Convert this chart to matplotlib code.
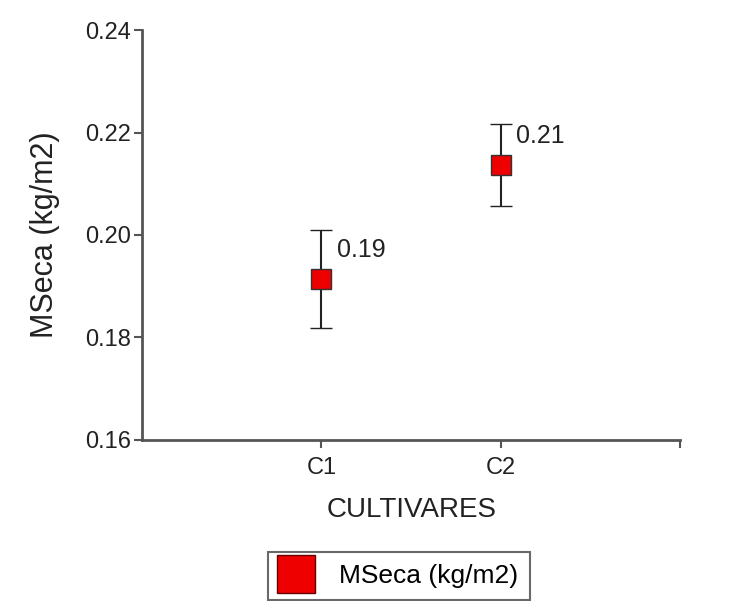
import numpy as np
import matplotlib
matplotlib.use("Agg")
import matplotlib.pyplot as plt
from matplotlib.lines import Line2D

plt.rcParams['font.family'] = ['Liberation Sans', 'DejaVu Sans']

# data
cultivares = ['C1', 'C2']
mseca = [0.1914, 0.2137]
erro = [0.0096, 0.0080]
rotulos = ['0.19', '0.21']

fig = plt.figure(figsize=(7.29, 6.01), dpi=100)
ax = fig.add_axes([0.195, 0.268, 0.738, 0.682])

x = np.arange(1, len(cultivares) + 1)
ax.errorbar(x, mseca, yerr=erro, fmt='s', color='#222222', ecolor='#222222',
            elinewidth=1.5, capsize=8, capthick=1.5,
            markersize=14, markerfacecolor='#ee0000', markeredgecolor='#333333',
            markeredgewidth=1)

for xi, yi, lab in zip(x, mseca, rotulos):
    ax.annotate(lab, (xi, yi), xytext=(11, 21), textcoords='offset points',
                fontsize=18, color='#222222', va='center', ha='left')

ax.set_xlim(0, 3)
ax.set_ylim(0.16, 0.24)
ax.set_xticks([1, 2, 3])
ax.set_xticklabels(cultivares + [''])
ax.set_yticks([0.16, 0.18, 0.20, 0.22, 0.24])
ax.set_yticklabels(['0.16', '0.18', '0.20', '0.22', '0.24'])

for s in ['top', 'right']:
    ax.spines[s].set_visible(False)
for s in ['left', 'bottom']:
    ax.spines[s].set_color('#555555')
    ax.spines[s].set_linewidth(2)
ax.tick_params(axis='both', colors='#555555', width=1.5, length=6, labelsize=17,
               labelcolor='#222222', pad=2)
ax.tick_params(axis='x', pad=6)

ax.set_xlabel('CULTIVARES', fontsize=20, color='#222222', labelpad=13)
ax.set_ylabel('MSeca (kg/m2)', fontsize=22, color='#222222', labelpad=18)

handle = Line2D([], [], marker='s', linestyle='none', markersize=27,
                markerfacecolor='#ee0000', markeredgecolor='#660000')
leg = fig.legend([handle], ['MSeca (kg/m2)'], loc='upper left',
                 bbox_to_anchor=(268 / 729, 1 - 552 / 601), fontsize=19, frameon=True,
                 fancybox=False, borderpad=0.45, handletextpad=1.05,
                 handlelength=1.2, borderaxespad=0)
leg.get_frame().set_edgecolor('#444444')
leg.get_frame().set_linewidth(1.5)

fig.savefig('out.png', dpi=100)
